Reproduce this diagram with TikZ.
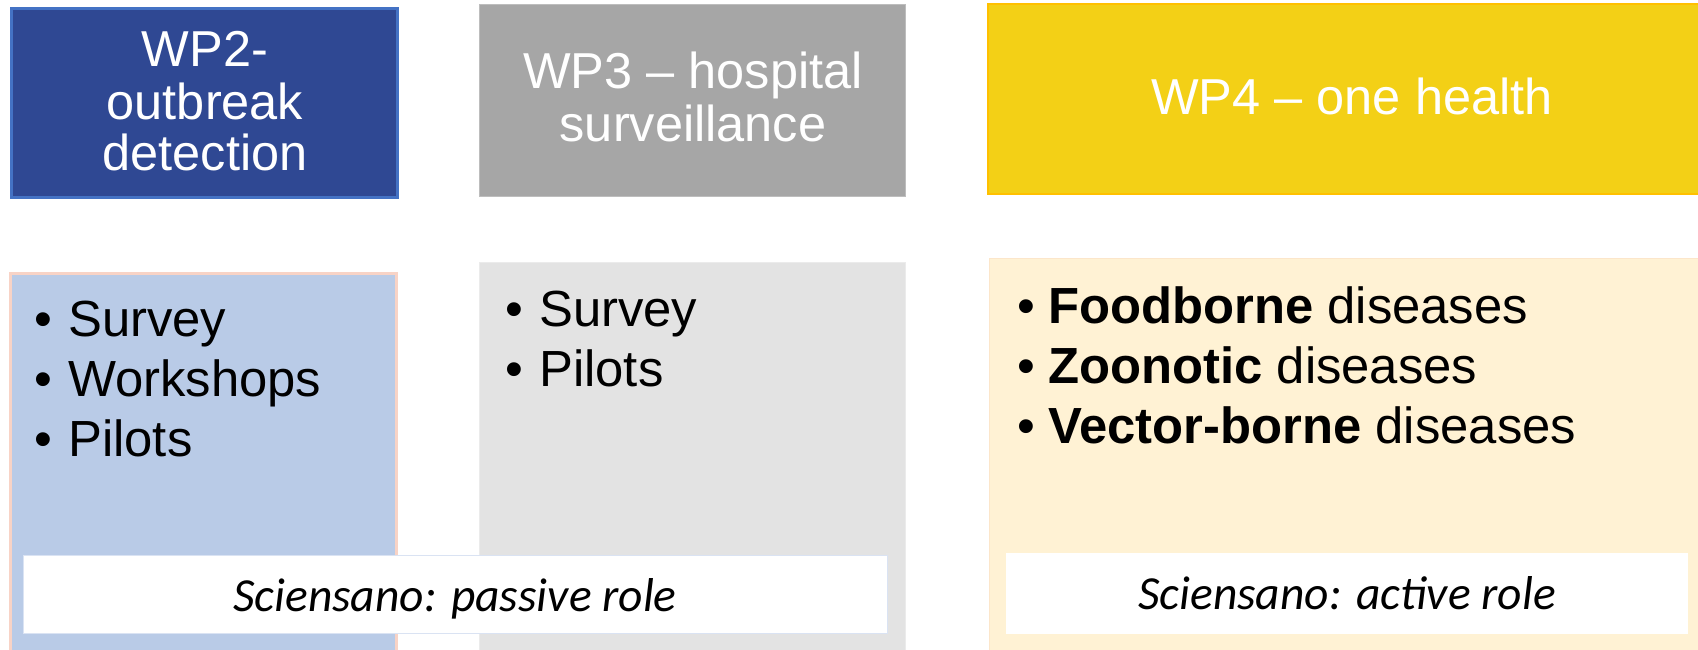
\documentclass[tikz,border=0pt]{standalone}
\usepackage{fontspec}
\setmainfont{Liberation Sans}
\newfontfamily\carlitofont{Carlito}
\definecolor{wpblue}{HTML}{2F4893}
\definecolor{wpblueline}{HTML}{4472C4}
\definecolor{ltblue}{HTML}{B9CBE7}
\definecolor{pinkline}{HTML}{F8D3C6}
\definecolor{wpgray}{HTML}{A6A6A6}
\definecolor{grayline}{HTML}{BDBDBD}
\definecolor{ltgray}{HTML}{E3E3E3}
\definecolor{ltgrayline}{HTML}{EBEBEB}
\definecolor{wpyellow}{HTML}{F3D016}
\definecolor{yellowline}{HTML}{FFC000}
\definecolor{ltyellow}{HTML}{FFF2D4}
\definecolor{ltyellowline}{HTML}{FCE6CA}
\definecolor{whiteline}{HTML}{DAE3F3}
\begin{document}
\begin{tikzpicture}[x=1pt,y=-1pt,
  box/.style={inner sep=0pt, outer sep=0pt, anchor=north west},
  head/.style={text=white, font=\fontsize{50.5}{52}\selectfont, align=center, inner sep=0pt, anchor=base},
  bul/.style={font=\fontsize{50.8}{60}\selectfont, inner sep=0pt, anchor=base west},
  role/.style={font=\carlitofont\itshape\fontsize{47.5}{50}\selectfont, inner sep=0pt, anchor=base}]
\clip (0,0) rectangle (1698,650);
\fill[white] (0,0) rectangle (1698,650);
% top boxes
\node[box, fill=wpblue, draw=wpblueline, line width=3pt, minimum width=386.5pt, minimum height=189pt] (b2) at (11,8.5) {};
\node[box, fill=wpgray, draw=grayline, line width=1pt, minimum width=426pt, minimum height=192pt] (b3) at (479.5,4.5) {};
\node[box, fill=wpyellow, draw=yellowline, line width=2pt, minimum width=800pt, minimum height=190pt] (b4) at (988,4) {};
% lower boxes
\node[box, fill=ltblue, draw=pinkline, line width=3pt, minimum width=386pt, minimum height=400pt] (l2) at (10.5,273.2) {};
\node[box, fill=ltgray, draw=ltgrayline, line width=1pt, minimum width=426pt, minimum height=400pt] (l3) at (479.5,262.5) {};
\node[box, fill=ltyellow, draw=ltyellowline, line width=1pt, minimum width=800pt, minimum height=400pt] (l4) at (989.5,258.5) {};
% white role boxes
\node[box, fill=white, draw=whiteline, line width=1pt, minimum width=864pt, minimum height=78pt] (r1) at (23.5,555.5) {};
\node[box, fill=white, minimum width=682pt, minimum height=81pt] (r2) at (1006,553) {};
% headers
\node[head] (h2a) at (205,67) {WP2-};
\node[head] (h2b) at (205,119.3) {outbreak};
\node[head] (h2c) at (205,170.7) {detection};
\node[head] (h3a) at (693,89) {WP3 – hospital};
\node[head] (h3b) at (693,141.7) {surveillance};
\node[head] (h4) at (1352,115) {WP4 – one health};
% bullets WP2
\node[bul] (d2a) at (34.5,336.7) {•};
\node[bul] (t2a) at (68,336.7) {Survey};
\node[bul] (d2b) at (34.5,396.7) {•};
\node[bul] (t2b) at (68,396.7) {Workshops};
\node[bul] (d2c) at (34.5,456.7) {•};
\node[bul] (t2c) at (68,456.7) {Pilots};
% bullets WP3
\node[bul] (d3a) at (505.5,326.7) {•};
\node[bul] (t3a) at (539,326.7) {Survey};
\node[bul] (d3b) at (505.5,386.7) {•};
\node[bul] (t3b) at (539,386.7) {Pilots};
% bullets WP4
\node[bul] (d4a) at (1017.5,323) {•};
\node[bul] (t4a) at (1048,323) {\textbf{Foodborne} diseases};
\node[bul] (d4b) at (1017.5,383) {•};
\node[bul] (t4b) at (1048,383) {\textbf{Zoonotic} diseases};
\node[bul] (d4c) at (1017.5,443) {•};
\node[bul] (t4c) at (1048,443) {\textbf{Vector-borne} diseases};
% roles
\node[role] (p1) at (455,611) {Sciensano: passive role};
\node[role] (p2) at (1347,609) {Sciensano: active role};
\end{tikzpicture}
\end{document}
